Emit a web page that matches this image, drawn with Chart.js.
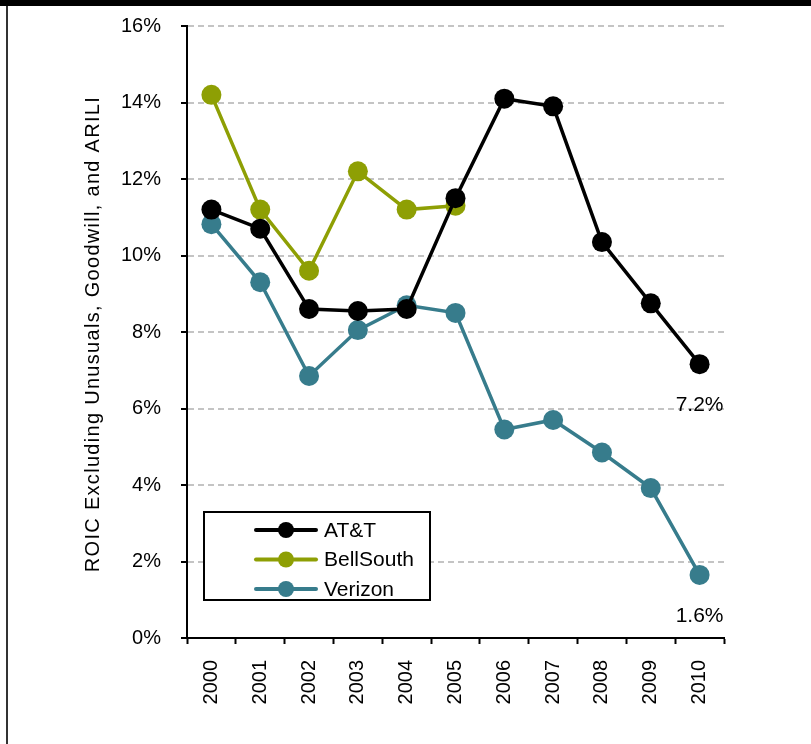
<!DOCTYPE html>
<html>
<head>
<meta charset="utf-8">
<script src="https://cdn.jsdelivr.net/npm/chart.js@4/dist/chart.umd.min.js"></script>
<style>
  html, body { margin: 0; padding: 0; background: #fff; }
  .frame { position: relative; width: 811px; height: 744px; overflow: hidden; }
  .frame .top-bar { position: absolute; left: 0; top: 0; width: 811px; height: 6px; background: #000; }
  .frame .left-bar { position: absolute; left: 6px; top: 6px; width: 2px; height: 738px; background: #333; }
  canvas { position: absolute; left: 0; top: 0; }
</style>
</head>
<body>
<div class="frame">
  <canvas id="roicChart" width="811" height="744"></canvas>
  <div class="top-bar"></div>
  <div class="left-bar"></div>
</div>
<script>
  const years = ["2000", "2001", "2002", "2003", "2004", "2005", "2006", "2007", "2008", "2009", "2010"];
  const att = [11.2, 10.7, 8.6, 8.55, 8.6, 11.5, 14.1, 13.9, 10.35, 8.75, 7.16];
  const bellSouth = [14.2, 11.2, 9.6, 12.2, 11.2, 11.3, null, null, null, null, null];
  const verizon = [10.82, 9.3, 6.85, 8.05, 8.7, 8.5, 5.45, 5.7, 4.85, 3.92, 1.65];
  const yTicks = [0, 2, 4, 6, 8, 10, 12, 14, 16];
  const yTitle = "ROIC Excluding Unusuals, Goodwill, and ARILI";

  const FONT = "'Liberation Sans', Arial, sans-serif";

  function series(label, data, color) {
    return {
      label: label,
      data: data,
      borderColor: color,
      backgroundColor: color,
      borderWidth: 3.5,
      pointRadius: 10,
      pointHoverRadius: 10,
      pointBorderWidth: 0,
      spanGaps: false,
    };
  }

  // rotated axis title, drawn by hand so the letters can be spaced out
  const axisTitle = {
    id: "axisTitle",
    afterDraw(chart) {
      const ctx = chart.ctx;
      ctx.save();
      ctx.translate(93, 334);
      ctx.rotate(-Math.PI / 2);
      ctx.font = "20px " + FONT;
      ctx.letterSpacing = "1.3px";
      ctx.fillStyle = "#000";
      ctx.textAlign = "center";
      ctx.textBaseline = "middle";
      ctx.fillText(yTitle, 0, 0);
      ctx.restore();
    },
  };

  // final value labels under the last AT&T and Verizon points
  const endLabels = {
    id: "endLabels",
    afterDatasetsDraw(chart) {
      const ctx = chart.ctx;
      ctx.save();
      ctx.font = "21px " + FONT;
      ctx.fillStyle = "#000";
      ctx.textAlign = "center";
      ctx.textBaseline = "middle";
      [0, 2].forEach((i) => {
        const ds = chart.data.datasets[i];
        const last = ds.data.length - 1;
        const pt = chart.getDatasetMeta(i).data[last];
        ctx.fillText(ds.data[last].toFixed(1) + "%", pt.x, pt.y + 41);
      });
      ctx.restore();
    },
  };

  // boxed legend sitting inside the plot
  const boxLegend = {
    id: "boxLegend",
    afterDraw(chart) {
      const ctx = chart.ctx;
      const x0 = 204, y0 = 512, w = 226, h = 88;
      ctx.save();
      ctx.fillStyle = "#fff";
      ctx.fillRect(x0, y0, w, h);
      ctx.strokeStyle = "#000";
      ctx.lineWidth = 2;
      ctx.strokeRect(x0, y0, w, h);
      ctx.font = "21px " + FONT;
      ctx.textBaseline = "middle";
      ctx.textAlign = "left";
      chart.data.datasets.forEach((ds, i) => {
        const y = 530 + i * 29.5;
        ctx.strokeStyle = ds.borderColor;
        ctx.lineWidth = 4;
        ctx.lineCap = "round";
        ctx.beginPath();
        ctx.moveTo(256, y);
        ctx.lineTo(316, y);
        ctx.stroke();
        ctx.fillStyle = ds.backgroundColor;
        ctx.beginPath();
        ctx.arc(286, y, 8, 0, Math.PI * 2);
        ctx.fill();
        ctx.fillStyle = "#000";
        ctx.fillText(ds.label, 324, y + 1);
      });
      ctx.restore();
    },
  };

  const ctx = document.getElementById("roicChart").getContext("2d");
  const roicChart = new Chart(ctx, {
    type: "line",
    data: {
      labels: years,
      datasets: [
        series("AT&T", att, "#000000"),
        series("BellSouth", bellSouth, "#8E9F04"),
        series("Verizon", verizon, "#377C8C"),
      ],
    },
    options: {
      responsive: false,
      animation: false,
      layout: { padding: { left: 80, top: 26, right: 87, bottom: 0 } },
      plugins: { legend: { display: false }, tooltip: { enabled: false } },
      scales: {
        x: {
          offset: true,
          grid: {
            offset: true,
            drawOnChartArea: false,
            tickLength: 6,
            tickColor: "#000",
            tickWidth: 2,
          },
          border: { color: "#000", width: 2 },
          ticks: {
            color: "#000",
            font: { family: FONT, size: 20 },
            minRotation: 90,
            maxRotation: 90,
            padding: 16,
            autoSkip: false,
          },
          afterFit(scale) {
            scale.height = 106;
            scale.paddingLeft = 0;
            scale.paddingRight = 0;
          },
        },
        y: {
          min: 0,
          max: 16,
          afterBuildTicks(scale) { scale.ticks = yTicks.map((v) => ({ value: v })); },
          grid: {
            color: "#C4C4C4",
            lineWidth: 2,
            tickLength: 6,
            tickColor: "#000",
            tickWidth: 2,
            tickBorderDash: [],
          },
          border: { color: "#000", width: 2, dash: [6, 4] },
          ticks: {
            color: "#000",
            font: { family: FONT, size: 20 },
            padding: 20,
            callback: (v) => v + "%",
          },
          afterFit(scale) {
            scale.width = 107;
            scale.paddingTop = 0;
            scale.paddingBottom = 0;
          },
        },
      },
    },
    plugins: [endLabels, boxLegend, axisTitle],
  });
</script>
</body>
</html>
